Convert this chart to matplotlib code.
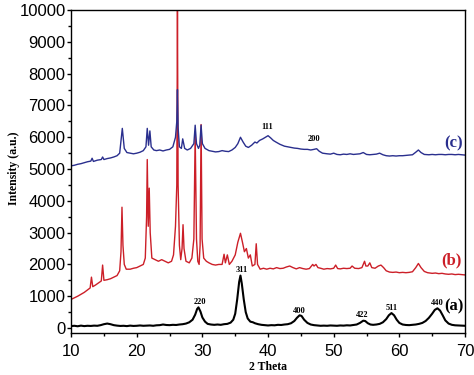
import numpy as np
import matplotlib
matplotlib.use('Agg')
import matplotlib.pyplot as plt
from matplotlib.ticker import MultipleLocator

#########################################################
# XRD patterns
# (c) top, navy
c_x = [10, 10.5, 11, 11.5, 12, 12.5, 13, 13.2, 13.4, 14, 14.6, 14.8, 15.0, 15.5, 16, 16.5, 17, 17.4,
       17.8, 18.1, 18.5, 19, 19.5, 20, 20.5, 21, 21.4, 21.6, 21.8, 22.0, 22.2, 22.6, 23, 23.5, 24, 24.5,
       25, 25.5, 25.9, 26.1, 26.2, 26.3, 26.5, 26.8, 27.0, 27.3, 27.7, 28.2, 28.7, 28.9, 29.1, 29.4,
       29.6, 29.8, 30.0, 30.4, 31, 31.5, 32, 32.5, 33, 33.5, 34, 34.5, 35, 35.4, 35.8, 36.2, 36.6, 37,
       37.5, 38, 38.3, 38.7, 39.2, 39.6, 40, 40.4, 40.8, 41.2, 41.8, 42.5, 43, 43.5, 44, 44.5, 45, 45.5,
       46, 46.5, 47, 47.4, 47.8, 48.3, 49, 49.5, 50, 50.5, 51, 51.5, 52, 52.5, 53, 53.5, 54, 54.5, 55,
       55.5, 56, 56.5, 57, 57.5, 58, 58.5, 59, 59.5, 60, 60.5, 61, 61.5, 62, 62.5, 62.9, 63.3, 63.8,
       64.5, 65, 65.5, 66, 66.5, 67, 67.5, 68, 68.5, 69, 69.5, 70]
c_y = [5100, 5120, 5150, 5170, 5200, 5230, 5250, 5340, 5240, 5280, 5300, 5380, 5300, 5330, 5350, 5380,
       5420, 5500, 6280, 5650, 5520, 5500, 5480, 5500, 5530, 5580, 5700, 6280, 5750, 6200, 5700, 5600,
       5580, 5600, 5570, 5600, 5620, 5700, 6000, 6500, 7500, 6300, 5700, 5650, 5950, 5650, 5600, 5650,
       5800, 6380, 5800, 5650, 5750, 6380, 5800, 5650, 5580, 5560, 5540, 5550, 5580, 5560, 5550, 5600,
       5680, 5800, 6000, 5850, 5720, 5680, 5750, 5850, 5820, 5900, 5950, 6000, 6050, 5980, 5900, 5850,
       5780, 5720, 5700, 5680, 5660, 5650, 5630, 5620, 5620, 5600, 5620, 5640, 5560, 5500, 5480, 5470,
       5500, 5460, 5450, 5470, 5460, 5480, 5460, 5470, 5480, 5520, 5460, 5450, 5460, 5470, 5500, 5450,
       5420, 5410, 5420, 5410, 5420, 5420, 5430, 5440, 5450, 5530, 5600, 5520, 5460, 5450, 5460, 5450,
       5460, 5460, 5450, 5460, 5460, 5450, 5460, 5450, 5440]

# (b) middle, red
b_x = [10, 10.5, 11, 11.5, 12, 12.5, 12.9, 13.1, 13.3, 13.7, 14.2, 14.6, 14.8, 15.0, 15.5, 16, 16.5,
       17, 17.4, 17.6, 17.75, 17.9, 18.1, 18.4, 19, 19.5, 20, 20.5, 21, 21.3, 21.5, 21.6, 21.75, 21.9,
       22.05, 22.3, 22.8, 23.3, 23.8, 24.3, 24.8, 25.3, 25.6, 25.9, 26.1, 26.2, 26.3, 26.5, 26.7, 26.9,
       27.05, 27.2, 27.5, 28, 28.4, 28.7, 28.9, 29.1, 29.3, 29.5, 29.65, 29.8, 29.95, 30.2, 30.6, 31,
       31.5, 32, 32.5, 33, 33.3, 33.5, 33.8, 34.1, 34.5, 35, 35.4, 35.8, 36.1, 36.4, 36.7, 37, 37.3,
       37.6, 38.0, 38.2, 38.4, 38.8, 39.3, 39.8, 40.3, 40.8, 41.3, 41.8, 42.3, 42.8, 43.3, 43.8, 44.3,
       44.8, 45.3, 45.8, 46.3, 46.8, 47.0, 47.3, 47.6, 48.0, 48.5, 49, 49.5, 50, 50.3, 50.6, 51, 51.5,
       52, 52.5, 52.8, 53.2, 53.8, 54.3, 54.7, 54.9, 55.2, 55.5, 55.8, 56.3, 56.8, 57.2, 57.6, 58,
       58.5, 59, 59.5, 60, 60.5, 61, 61.5, 62, 62.5, 62.9, 63.3, 63.8, 64.3, 65, 65.5, 66, 66.5, 67,
       67.5, 68, 68.5, 69, 69.5, 70]
b_y = [900, 950, 1000, 1060, 1120, 1200, 1260, 1600, 1300, 1350, 1420, 1480, 1980, 1500, 1520, 1550,
       1600, 1650, 1800, 2400, 3800, 2600, 2000, 1850, 1850, 1880, 1900, 1950, 2000, 2200, 3500, 5300,
       3200, 4400, 3000, 2200, 2150, 2100, 2150, 2100, 2050, 2100, 2300, 3200, 4500, 10000, 4500, 2600,
       2150, 2500, 3250, 2500, 2100, 2050, 2200, 2800, 6100, 2800, 2100, 2000, 2600, 6400, 2800, 2200,
       2100, 2050, 2000, 1980, 2000, 2000, 2320, 2050, 2300, 2000, 2100, 2300, 2700, 2980, 2700, 2400,
       2500, 2200, 2300, 1950, 2000, 2650, 2000, 1850, 1880, 1850, 1880, 1860, 1900, 1870, 1880, 1920,
       1950, 1900, 1860, 1900, 1870, 1850, 1870, 2000, 1950, 2000, 1900, 1880, 1850, 1870, 1860, 1880,
       1980, 1870, 1860, 1880, 1870, 1880, 1950, 1880, 1870, 1900, 2100, 1950, 1950, 2050, 1900, 1880,
       1950, 1980, 1900, 1800, 1760, 1750, 1760, 1740, 1750, 1740, 1750, 1770, 1900, 2030, 1900, 1780,
       1740, 1720, 1730, 1710, 1720, 1700, 1690, 1700, 1680, 1690, 1680, 1670]

# (a) bottom, black
a_x = [10, 10.5, 11, 11.5, 12, 12.5, 13, 13.5, 14, 14.5, 15, 15.5, 16, 16.5, 17, 17.5, 18, 18.5, 19,
       19.5, 20, 20.5, 21, 21.5, 22, 22.5, 23, 23.5, 24, 24.5, 25, 25.5, 26, 26.5, 27, 27.5, 28, 28.5,
       28.9, 29.2, 29.4, 29.7, 30.0, 30.4, 30.8, 31.3, 31.8, 32.3, 32.8, 33.3, 33.8, 34.3, 34.7, 35.0,
       35.3, 35.6, 35.8, 36.0, 36.3, 36.6, 36.9, 37.3, 37.7, 38.0, 38.5, 39, 39.5, 40, 40.5, 41, 41.5,
       42, 42.5, 43, 43.5, 44, 44.4, 44.8, 45.1, 45.5, 46, 46.5, 47, 47.5, 48, 48.5, 49, 49.5, 50, 50.5,
       51, 51.5, 52, 52.5, 53, 53.5, 54, 54.5, 54.8, 55.2, 55.6, 56, 56.5, 57, 57.5, 58, 58.4, 58.8,
       59.2, 59.6, 60.0, 60.5, 61, 61.5, 62, 62.5, 63, 63.5, 64, 64.5, 65, 65.4, 65.8, 66.2, 66.6, 67,
       67.5, 68, 68.5, 69, 69.5, 70]
a_y = [60, 70, 55, 75, 60, 70, 65, 75, 70, 90, 120, 140, 120, 90, 75, 65, 70, 60, 75, 65, 70, 80, 70,
       75, 80, 70, 85, 90, 110, 95, 90, 100, 95, 110, 120, 140, 180, 260, 420, 600, 650, 520, 330, 200,
       130, 110, 100, 110, 100, 120, 130, 170, 260, 450, 900, 1450, 1650, 1400, 900, 500, 300, 200, 180,
       150, 120, 100, 90, 80, 90, 85, 100, 95, 110, 120, 150, 220, 320, 400, 380, 260, 160, 110, 90, 80,
       70, 75, 70, 80, 75, 70, 80, 75, 85, 80, 95, 110, 160, 230, 220, 150, 110, 100, 110, 130, 180, 280,
       400, 470, 400, 260, 160, 110, 95, 90, 100, 110, 130, 160, 220, 320, 450, 570, 620, 550, 400, 240,
       140, 100, 85, 80, 75, 70]

# Miller indices over the (a) peaks
hkl_labels = ['220', '311', '400', '422', '511', '440']
hkl_x = [29.6, 36.0, 44.8, 54.4, 58.8, 65.8]
hkl_y = [820, 1820, 530, 410, 630, 790]
# Miller indices over the (c) pattern
c_hkl_labels = ['111', '200']
c_hkl_x = [39.9, 47.0]
c_hkl_y = [6320, 5940]
#########################################################

fig = plt.figure(figsize=[4.74, 3.75], dpi=100)
ax = fig.add_axes([0.150, 0.112, 0.831, 0.861])

navy = '#2a2f8e'
red = '#cc1f28'

ax.plot(a_x, a_y, color='k', lw=1.5)
ax.plot(b_x, b_y, color=red, lw=1.0)
ax.plot(c_x, c_y, color=navy, lw=1.0)

serif = 'Liberation Serif'
for lab, x, y in zip(hkl_labels, hkl_x, hkl_y):
    ax.text(x, y, lab, ha='center', va='center', fontsize=6, fontweight='bold', family=serif)
for lab, x, y in zip(c_hkl_labels, c_hkl_x, c_hkl_y):
    ax.text(x, y, lab, ha='center', va='center', fontsize=6, fontweight='bold', family=serif)

ax.text(68.2, 5820, '(c)', color=navy, ha='center', va='center', fontsize=12, fontweight='bold', family=serif)
ax.text(68.0, 2140, '(b)', color=red, ha='center', va='center', fontsize=12, fontweight='bold', family=serif)
ax.text(68.3, 690, '(a)', color='k', ha='center', va='center', fontsize=12, fontweight='bold', family=serif)

ax.set_xlim(10, 70)
ax.set_ylim(-157, 10000)
ax.xaxis.set_major_locator(MultipleLocator(10))
ax.xaxis.set_minor_locator(MultipleLocator(5))
ax.yaxis.set_major_locator(MultipleLocator(1000))
ax.yaxis.set_minor_locator(MultipleLocator(500))
ax.tick_params(which='major', direction='out', length=3, width=1)
ax.tick_params(which='minor', direction='out', length=2, width=1)
ax.tick_params(axis='y', which='major', pad=1)
ax.tick_params(axis='x', which='major', pad=5)
for lab in ax.get_xticklabels() + ax.get_yticklabels():
    lab.set_family('Liberation Sans')
    lab.set_fontsize(12)
for sp in ax.spines.values():
    sp.set_linewidth(1.0)

ax.set_xlabel('2 Theta', fontsize=8.5, fontweight='bold', family=serif)
ax.set_ylabel('Intensity (a.u.)', fontsize=8.5, fontweight='bold', family=serif)
ax.xaxis.set_label_coords(0.5, -0.088)
ax.yaxis.set_label_coords(-0.13, 0.51)

plt.savefig('out.png', dpi=100)
plt.close(fig)
